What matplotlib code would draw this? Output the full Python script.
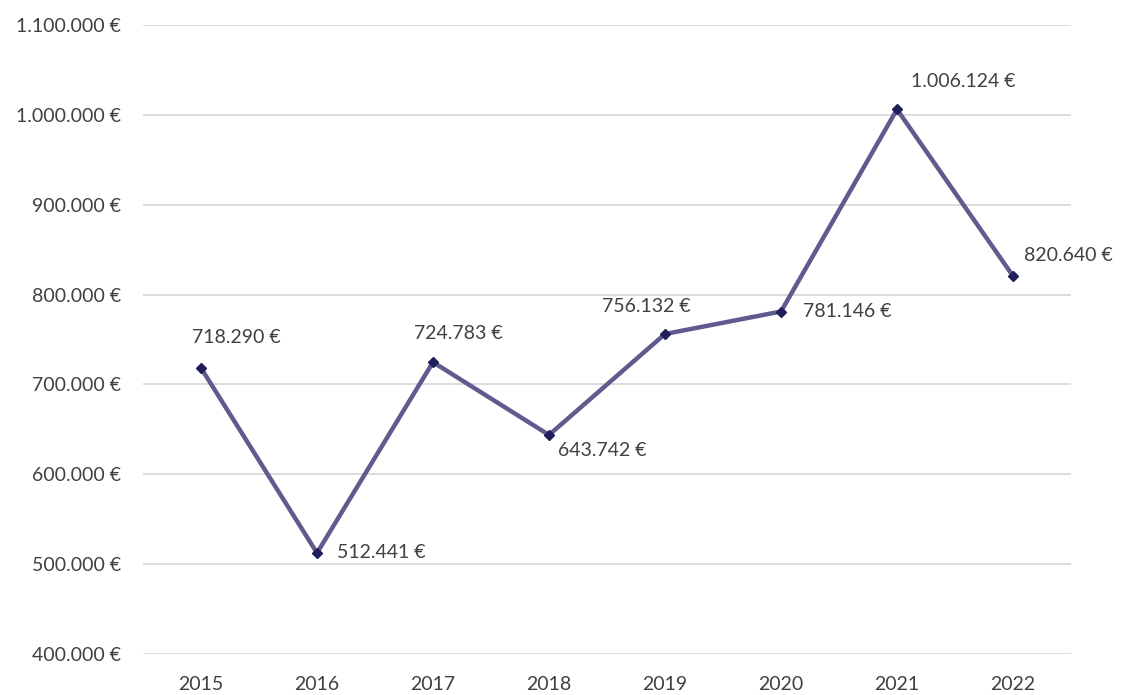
import matplotlib
matplotlib.use('Agg')
from matplotlib import pyplot as plt
from matplotlib.ticker import FuncFormatter

years = ['2015', '2016', '2017', '2018', '2019', '2020', '2021', '2022']
values = [718290, 512441, 724783, 643742, 756132, 781146, 1006124, 820640]
# label offsets in pixels (dx, dy) and horizontal alignment
label_pos = [(35, 30, 'center'), (20, 0, 'left'), (25, 29, 'center'),
             (9, -16, 'left'), (-19, 27, 'center'), (22, 0, 'left'),
             (66, 28, 'center'), (11, 21, 'left')]


def euro(v, pos=None):
    return '{:,.0f} €'.format(v).replace(',', '.')


plt.rcParams['font.family'] = ['Lato', 'DejaVu Sans']
text_color = '#404040'

fig = plt.figure(figsize=(11.21, 6.95), dpi=100)
ax = fig.add_axes([143 / 1121, 41 / 695, 928 / 1121, 629 / 695])

x = list(range(len(years)))
ax.plot(x, values, color='#5f5b8e', linewidth=3.2, zorder=3,
        marker='D', markersize=5, markerfacecolor='#1f1f5c',
        markeredgecolor='#1f1f5c')

for xi, v, (dx, dy, ha) in zip(x, values, label_pos):
    ax.annotate(euro(v), (xi, v), xytext=(dx, dy), textcoords='offset pixels',
                ha=ha, va='center', fontsize=14, color=text_color)

ax.set_xlim(-0.5, len(years) - 0.5)
ax.set_ylim(400000, 1100000)
ax.set_yticks(range(400000, 1100001, 100000))
ax.yaxis.set_major_formatter(FuncFormatter(euro))
ax.set_xticks(x)
ax.set_xticklabels(years)
ax.grid(axis='y', color='#d9d9d9', linewidth=1.3)
ax.set_axisbelow(True)
for s in ax.spines.values():
    s.set_visible(False)
ax.tick_params(length=0, labelsize=14, colors=text_color)
ax.tick_params(axis='y', pad=16)
ax.tick_params(axis='x', pad=16)

fig.savefig('out.png', dpi=100)
